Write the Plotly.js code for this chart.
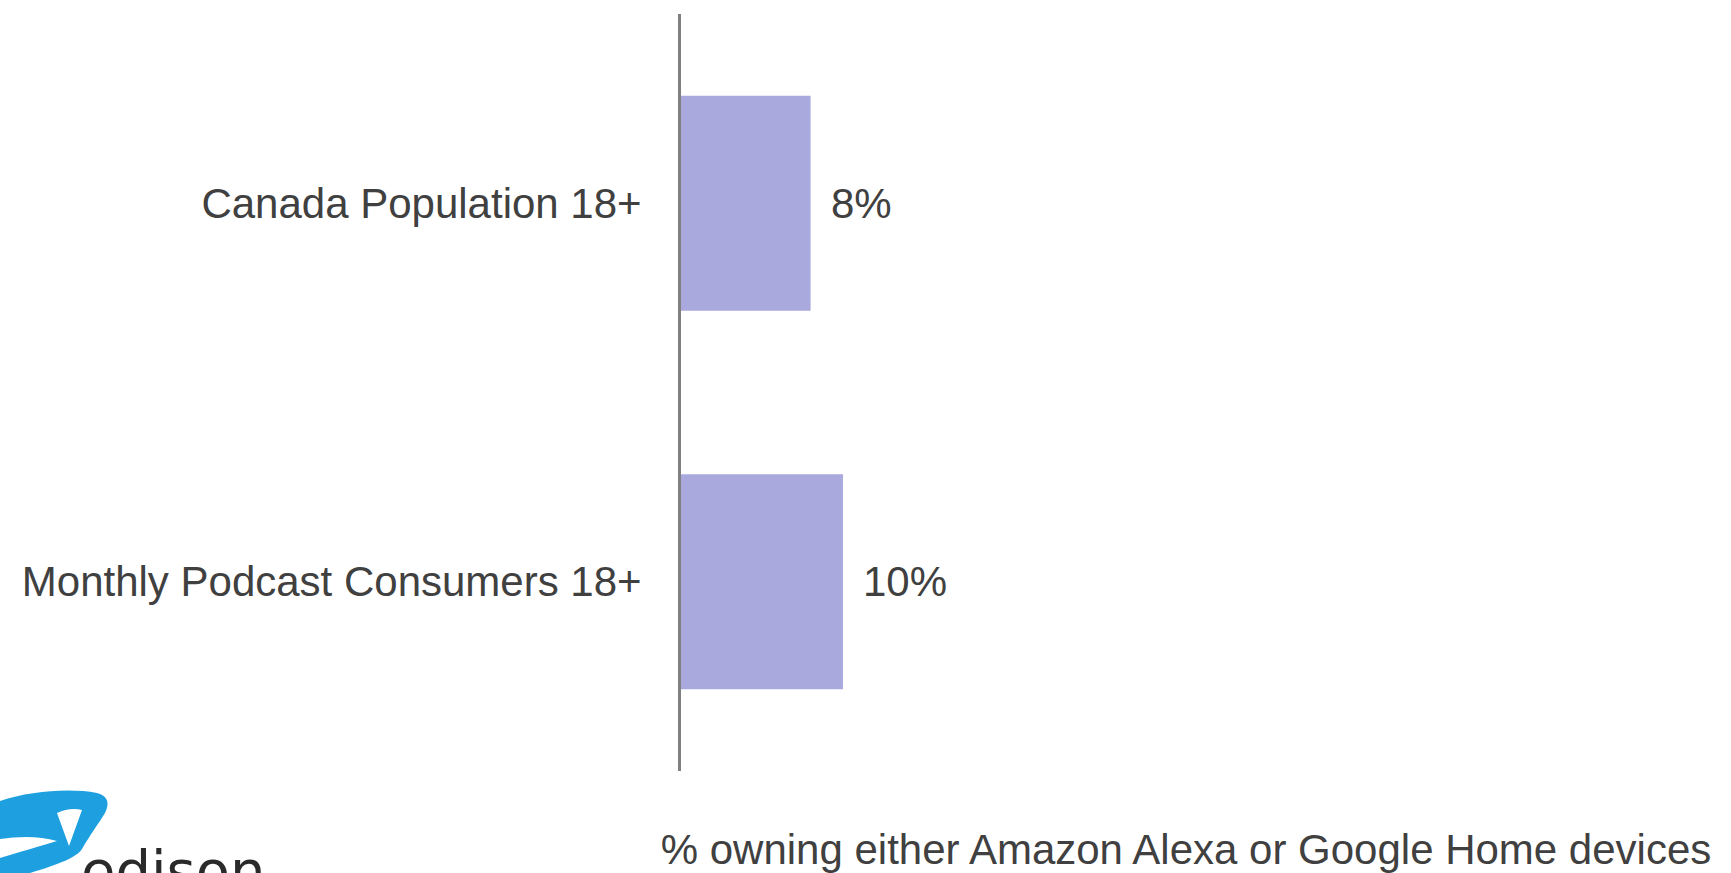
<!DOCTYPE html>
<html>
<head>
<meta charset="utf-8">
<script src="https://cdn.plot.ly/plotly-3.0.1.min.js"></script>
<style>
  html, body { margin: 0; padding: 0; background: #ffffff; }
  #chart { width: 1731px; height: 873px; }
</style>
</head>
<body>
<div id="chart"></div>
<script>
// ---- data ----
const categories = ["Canada Population 18+", "Monthly Podcast Consumers 18+"];
const values = [8, 10];
const valueLabels = ["8%", "10%"];
const xTitle = "% owning either Amazon Alexa or Google Home devices";
const logoText = "edison";

// ---- layout geometry (pixels) ----
const W = 1731, H = 873;
const M = { l: 681, r: 40, t: 14, b: 102 };
const plotW = W - M.l - M.r, plotH = H - M.t - M.b;
const px2paperX = x => (x - M.l) / plotW;
const px2paperY = y => (H - M.b - y) / plotH;

const textColor = "#404040";
const font = "Liberation Sans";

const trace = {
  type: "bar",
  orientation: "h",
  x: values,
  y: categories,
  marker: { color: "#a9a9de", line: { width: 0 } },
  hoverinfo: "skip"
};

const annotations = values.map((v, i) => ({
  x: v, y: categories[i], xref: "x", yref: "y",
  text: valueLabels[i], showarrow: false,
  xanchor: "left", yanchor: "middle", xshift: 18,
  font: { family: font, size: 42, color: textColor }
}));

annotations.push({
  xref: "paper", yref: "paper",
  x: px2paperX(79), y: px2paperY(836),
  xanchor: "left", yanchor: "top",
  text: logoText, showarrow: false,
  font: { family: "DejaVu Sans", size: 56, color: "#2a2a2a" }
});

const swooshSvg =
  '<svg xmlns="http://www.w3.org/2000/svg" width="120" height="93" viewBox="0 780 120 93">' +
  '<path fill="#1ea0e0" fill-rule="evenodd" d="' +
  'M0 801 C30 791 70 788 97 793 C108 796 110 803 105 813 C99 823 90 835 82 849 ' +
  'C77 857 60 864 30 873 L0 873 L0 858 C20 852 40 846 57 841 C40 836 20 836 0 839 Z ' +
  'M57 813 C65 809 75 808 82 810 L69 846 Z"/>' +
  '</svg>';

const layout = {
  width: W, height: H,
  margin: { l: M.l, r: M.r, t: M.t, b: M.b, pad: 0 },
  paper_bgcolor: "#ffffff",
  plot_bgcolor: "#ffffff",
  showlegend: false,
  bargap: 0.432,
  font: { family: font, color: textColor },
  xaxis: {
    range: [0, 62.35],
    showgrid: false, zeroline: false, showline: false,
    showticklabels: false, ticks: "",
    fixedrange: true,
    title: { text: xTitle, font: { family: font, size: 42, color: textColor }, standoff: 65 }
  },
  yaxis: {
    autorange: "reversed",
    showgrid: false, zeroline: false,
    showline: true, linecolor: "#808080", linewidth: 3,
    ticks: "outside", ticklen: 28, tickcolor: "rgba(0,0,0,0)",
    tickfont: { family: font, size: 42, color: textColor },
    fixedrange: true
  },
  annotations: annotations,
  images: [{
    source: "data:image/svg+xml;charset=utf-8," + encodeURIComponent(swooshSvg),
    xref: "paper", yref: "paper",
    x: px2paperX(0), y: px2paperY(780),
    sizex: 120 / plotW, sizey: 93 / plotH,
    sizing: "stretch", xanchor: "left", yanchor: "top", layer: "above"
  }]
};

Plotly.newPlot("chart", [trace], layout, { displayModeBar: false, staticPlot: true });
</script>
</body>
</html>
